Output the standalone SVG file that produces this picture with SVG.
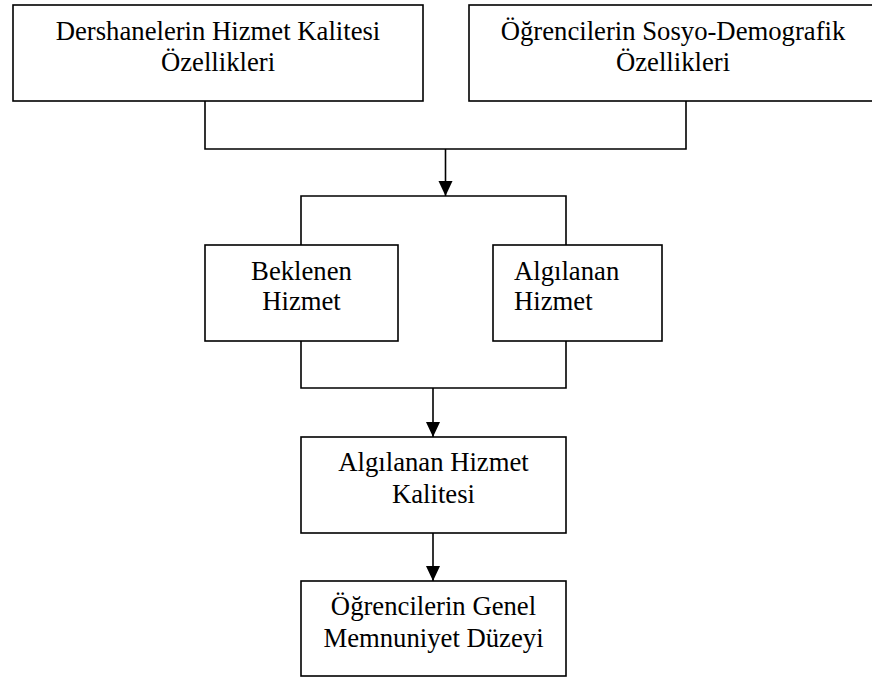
<svg xmlns="http://www.w3.org/2000/svg" width="872" height="677" viewBox="0 0 872 677">
<style>
.box{fill:#fff;stroke:#000;stroke-width:1.6}
.ln{fill:none;stroke:#000;stroke-width:1.6}
text{font-family:"Liberation Serif","Times New Roman",serif;font-size:26.7px;fill:#000}
.c{text-anchor:middle}
</style>
<defs>
<marker id="ah" markerUnits="userSpaceOnUse" markerWidth="16" markerHeight="16" viewBox="0 0 16 16" refX="15" refY="8" orient="auto">
<path d="M0,1 L15,8 L0,15 Z" fill="#000"/>
</marker>
</defs>
<rect width="872" height="677" fill="#fff"/>
<g id="connectors">
<path class="ln" d="M205 101 V149 H686 V101"/>
<path class="ln" d="M445.5 149 V196" marker-end="url(#ah)"/>
<path class="ln" d="M301 245 V196 H566 V245"/>
<path class="ln" d="M301 341 V388 H566 V341"/>
<path class="ln" d="M433 388 V437" marker-end="url(#ah)"/>
<path class="ln" d="M433 533 V581" marker-end="url(#ah)"/>
</g>
<g id="n1">
<rect class="box" x="13" y="5" width="410" height="96"/>
<text class="c" x="218" y="40">Dershanelerin Hizmet Kalitesi</text>
<text class="c" x="218" y="71">Özellikleri</text>
</g>
<g id="n2">
<rect class="box" x="469" y="5" width="410" height="96"/>
<text class="c" x="673" y="40">Öğrencilerin Sosyo-Demografik</text>
<text class="c" x="673" y="71">Özellikleri</text>
</g>
<g id="n3">
<rect class="box" x="205" y="245" width="193" height="96"/>
<text class="c" x="301.5" y="280">Beklenen</text>
<text class="c" x="301.5" y="310">Hizmet</text>
</g>
<g id="n4">
<rect class="box" x="493" y="245" width="169" height="96"/>
<text x="514" y="280">Algılanan</text>
<text x="514" y="310">Hizmet</text>
</g>
<g id="n5">
<rect class="box" x="301" y="437" width="265" height="96"/>
<text class="c" x="433.5" y="471">Algılanan Hizmet</text>
<text class="c" x="433.5" y="503">Kalitesi</text>
</g>
<g id="n6">
<rect class="box" x="301" y="581" width="265" height="95"/>
<text class="c" x="433.5" y="615">Öğrencilerin Genel</text>
<text class="c" x="433.5" y="647">Memnuniyet Düzeyi</text>
</g>
</svg>
